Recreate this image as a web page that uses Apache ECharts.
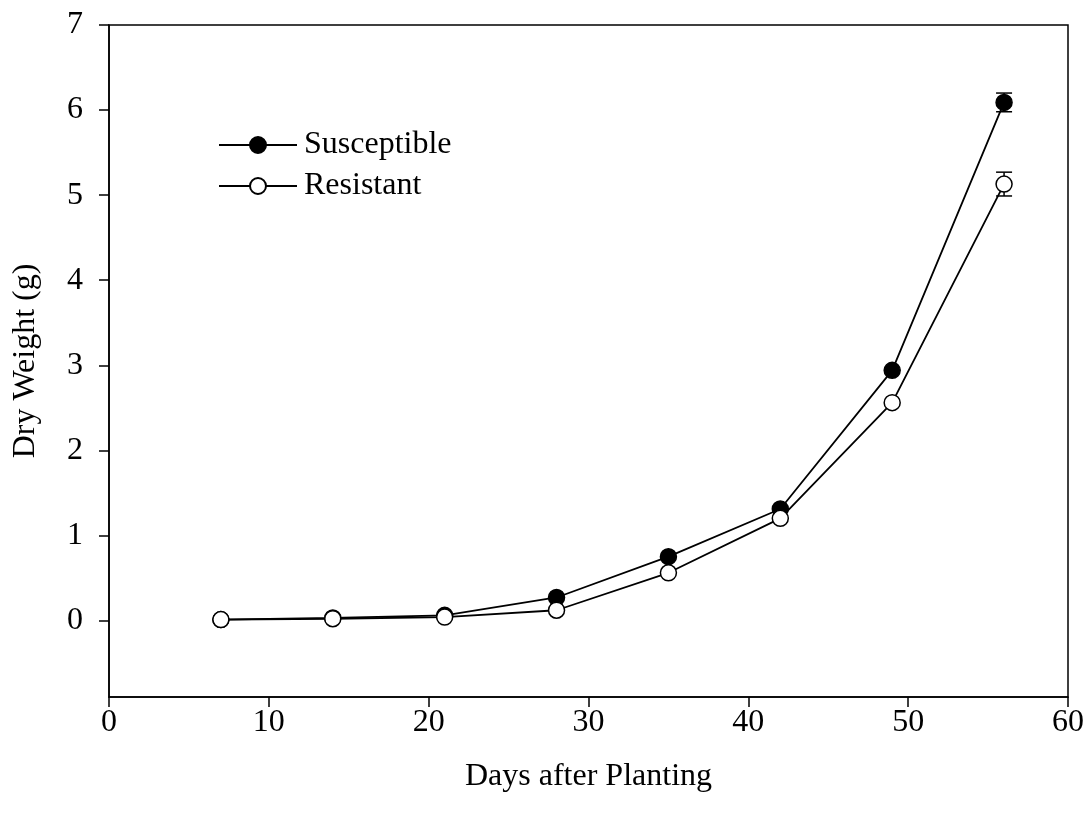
<!DOCTYPE html>
<html>
<head>
<meta charset="utf-8">
<style>
  html, body { margin: 0; padding: 0; background: #fff; }
  #chart { width: 1091px; height: 823px; }
</style>
<script src="https://cdn.jsdelivr.net/npm/echarts@6/dist/echarts.min.js"></script>
</head>
<body>
<div id="chart"></div>
<script>
var days = [7, 14, 21, 28, 35, 42, 49, 56];
var susceptible = [0.01, 0.03, 0.06, 0.27, 0.75, 1.31, 2.94, 6.09];
var resistant = [0.01, 0.02, 0.04, 0.12, 0.56, 1.20, 2.56, 5.13];
// standard error, only visible at the last harvest
var susceptibleErr = [0, 0, 0, 0, 0, 0, 0, 0.11];
var resistantErr = [0, 0, 0, 0, 0, 0, 0, 0.14];
var yTicks = [0, 1, 2, 3, 4, 5, 6, 7];

var chart = echarts.init(document.getElementById('chart'));
var font = 'Liberation Serif';

function pairs(ys) {
    return days.map(function (d, i) { return [d, ys[i]]; });
}
function errData(ys, es) {
    var out = [];
    days.forEach(function (d, i) {
        if (es[i] > 0) out.push([d, ys[i] - es[i], ys[i] + es[i]]);
    });
    return out;
}
function renderErr(params, api) {
    var x = api.value(0);
    var lo = api.coord([x, api.value(1)]);
    var hi = api.coord([x, api.value(2)]);
    var half = 8;
    var st = { stroke: '#000', lineWidth: 1.5 };
    return {
        type: 'group',
        children: [
            { type: 'line', shape: { x1: lo[0], y1: lo[1], x2: hi[0], y2: hi[1] }, style: st },
            { type: 'line', shape: { x1: lo[0] - half, y1: lo[1], x2: lo[0] + half, y2: lo[1] }, style: st },
            { type: 'line', shape: { x1: hi[0] - half, y1: hi[1], x2: hi[0] + half, y2: hi[1] }, style: st }
        ]
    };
}

var option = {
    backgroundColor: '#fff',
    animation: false,
    textStyle: { fontFamily: font, color: '#000' },
    grid: {
        left: 109, top: 25, right: 23, bottom: 126,
        outerBoundsMode: 'none',
        containLabel: false,
        show: true, borderColor: '#000', borderWidth: 1.5
    },
    legend: {
        orient: 'vertical',
        left: 213,
        top: 124,
        itemWidth: 78,
        itemHeight: 20,
        itemGap: 9,
        textStyle: { fontFamily: font, fontSize: 32, color: '#000', padding: [0, 0, 0, 2] },
        data: ['Susceptible', 'Resistant']
    },
    xAxis: {
        type: 'value',
        min: 0, max: 60, interval: 10,
        name: 'Days after Planting',
        nameLocation: 'middle',
        nameGap: 64,
        nameTextStyle: { fontFamily: font, fontSize: 32, color: '#000' },
        axisLine: { onZero: false, lineStyle: { color: '#000', width: 1.5 } },
        axisTick: { length: 10, lineStyle: { color: '#000', width: 1.5 } },
        axisLabel: { fontFamily: font, fontSize: 32, color: '#000', margin: 10 },
        splitLine: { show: false }
    },
    yAxis: {
        type: 'value',
        min: -0.9, max: 7,
        name: 'Dry Weight (g)',
        nameLocation: 'middle',
        nameGap: 67,
        nameTextStyle: { fontFamily: font, fontSize: 32, color: '#000' },
        axisLine: { lineStyle: { color: '#000', width: 1.5 } },
        axisTick: { length: 10, customValues: yTicks, lineStyle: { color: '#000', width: 1.5 } },
        axisLabel: { fontFamily: font, fontSize: 32, color: '#000', margin: 26, customValues: yTicks },
        splitLine: { show: false }
    },
    series: [
        {
            name: 'Susceptible',
            type: 'line',
            data: pairs(susceptible),
            symbol: 'circle',
            symbolSize: 16,
            lineStyle: { color: '#000', width: 1.8 },
            itemStyle: { color: '#000', borderColor: '#000', borderWidth: 1.5 },
            z: 3
        },
        {
            name: 'Resistant',
            type: 'line',
            data: pairs(resistant),
            symbol: 'circle',
            symbolSize: 16,
            lineStyle: { color: '#000', width: 1.8 },
            itemStyle: { color: '#fff', borderColor: '#000', borderWidth: 1.5 },
            z: 4
        },
        {
            type: 'custom',
            renderItem: renderErr,
            data: errData(susceptible, susceptibleErr),
            z: 2
        },
        {
            type: 'custom',
            renderItem: renderErr,
            data: errData(resistant, resistantErr),
            z: 2
        }
    ]
};

chart.setOption(option);
</script>
</body>
</html>
